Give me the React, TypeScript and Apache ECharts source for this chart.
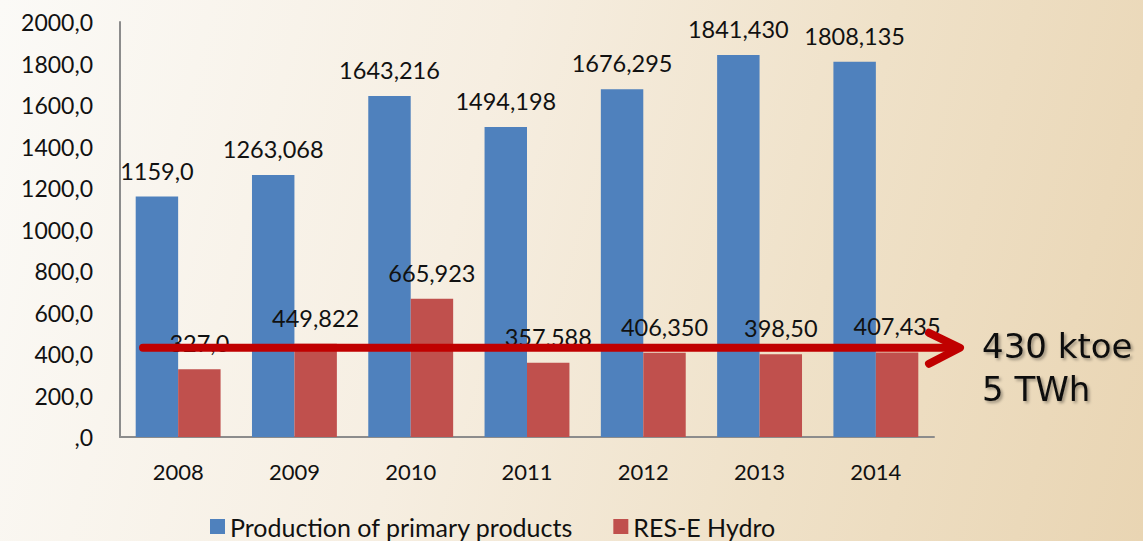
import React, { useEffect, useRef } from "react";
import * as echarts from "echarts";

const categories = ["2008", "2009", "2010", "2011", "2012", "2013", "2014"];
const primaryValues = [1159.0, 1263.068, 1643.216, 1494.198, 1676.295, 1841.43, 1808.135];
const primaryLabels = ["1159,0", "1263,068", "1643,216", "1494,198", "1676,295", "1841,430", "1808,135"];
const hydroValues = [327.0, 449.822, 665.923, 357.588, 406.35, 398.5, 407.435];
const hydroLabels = ["327,0", "449,822", "665,923", "357,588", "406,350", "398,50", "407,435"];
const arrowValue = 430;
const noteLines = ["430 ktoe", "5 TWh"];

const FONT = "Lato, 'Open Sans', sans-serif";

export default function App() {
  const ref = useRef<HTMLDivElement>(null);
  useEffect(() => {
    if (!ref.current) return;
    const chart = echarts.init(ref.current, undefined, { renderer: "svg" });
    chart.setOption({
      animation: false,
      backgroundColor: "transparent",
      grid: { left: 120, right: 209, top: 22, bottom: 104 },
      legend: {
        bottom: -3,
        left: 205,
        itemWidth: 15,
        itemHeight: 15,
        itemGap: 40,
        icon: "rect",
        textStyle: { fontFamily: FONT, fontSize: 25, color: "#111" },
        data: ["Production of primary products", "RES-E Hydro"],
      },
      xAxis: {
        type: "category",
        data: categories,
        axisLine: { lineStyle: { color: "#8c8c8c", width: 2 } },
        axisTick: { show: false },
        axisLabel: { fontFamily: FONT, fontSize: 22, color: "#111", margin: 23 },
      },
      yAxis: {
        type: "value",
        min: 0,
        max: 2000,
        interval: 200,
        axisLine: { show: true, lineStyle: { color: "#8c8c8c", width: 2 } },
        axisTick: { show: false },
        splitLine: { show: false },
        axisLabel: {
          fontFamily: FONT,
          fontSize: 23,
          color: "#111",
          margin: 27,
          formatter: (v: number) => (v === 0 ? ",0" : v.toFixed(1).replace(".", ",")),
        },
      },
      series: [
        {
          name: "Production of primary products",
          type: "bar",
          data: primaryValues,
          barGap: "0%",
          barCategoryGap: "27%",
          itemStyle: { color: "#4F81BD" },
          label: {
            show: true,
            position: "top",
            distance: 14,
            fontFamily: FONT,
            fontSize: 23.5,
            color: "#111",
            formatter: (p: any) => primaryLabels[p.dataIndex],
          },
        },
        {
          name: "RES-E Hydro",
          type: "bar",
          data: hydroValues,
          itemStyle: { color: "#C0504D" },
          label: {
            show: true,
            position: "top",
            distance: 14,
            fontFamily: FONT,
            fontSize: 23.5,
            color: "#111",
            formatter: (p: any) => hydroLabels[p.dataIndex],
          },
        },
      ],
    });
    const y = chart.convertToPixel({ yAxisIndex: 0 }, arrowValue) as number;
    const x0 = 143;
    const x1 = 960;
    chart.setOption({
      graphic: [
        {
          type: "line",
          shape: { x1: x0, y1: y, x2: x1 - 4, y2: y },
          style: { stroke: "#C00000", lineWidth: 8, lineCap: "round" },
          z: 100,
        },
        {
          type: "polyline",
          shape: { points: [[x1 - 31, y - 15], [x1, y], [x1 - 31, y + 16]] },
          style: { stroke: "#C00000", lineWidth: 8, lineCap: "round", lineJoin: "round", fill: "none" },
          z: 100,
        },
        {
          type: "text",
          left: 982,
          top: y - 23,
          style: {
            text: noteLines.join("\n"),
            fontFamily: "'DejaVu Sans', sans-serif",
            fontSize: 34,
            lineHeight: 43,
            fill: "#111",
            textShadowColor: "rgba(0,0,0,0.35)",
            textShadowBlur: 3,
            textShadowOffsetX: 2,
            textShadowOffsetY: 2,
          },
          z: 100,
        },
      ],
    });
    return () => chart.dispose();
  }, []);
  return (
    <div
      style={{
        position: "fixed",
        left: 0,
        top: 0,
        width: 1143,
        height: 541,
        background:
          "linear-gradient(105deg, #fbfaf7 0%, #f6eee1 40%, #efe1c8 70%, #e9d5b3 100%)",
      }}
    >
      <div ref={ref} style={{ width: 1143, height: 541 }} />
    </div>
  );
}
